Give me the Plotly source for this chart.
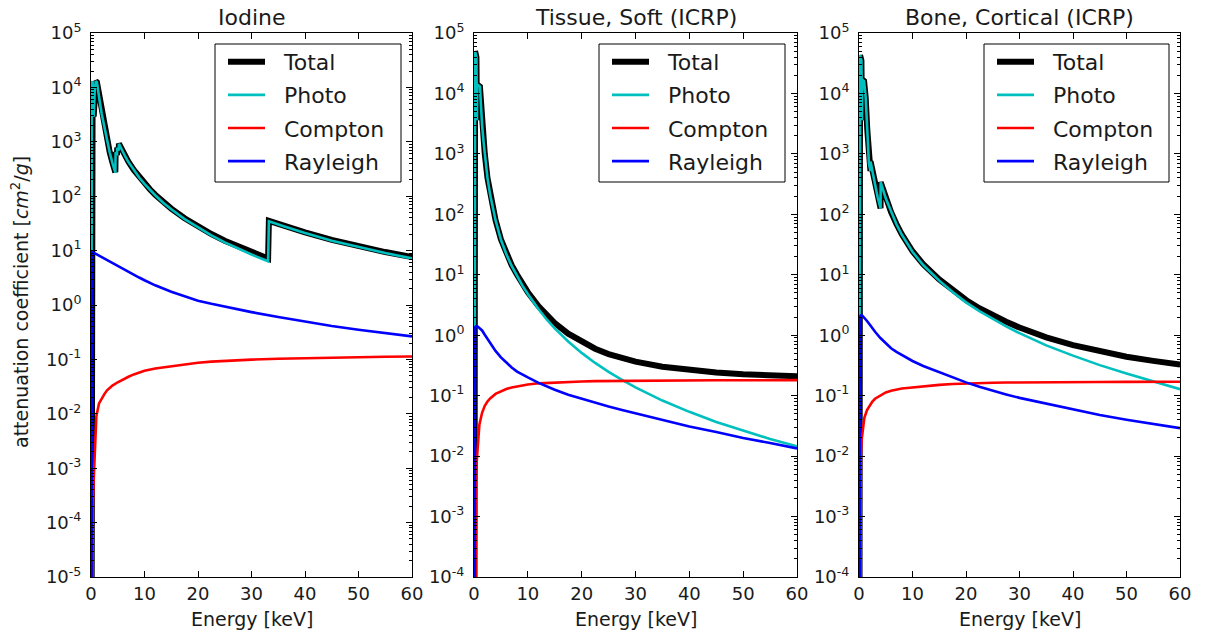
import plotly.graph_objects as go

W, H = 1207, 635

# ---------------- data ----------------
# shared energy grid for the smooth Compton / Rayleigh curves [keV]
E_smooth = [0, 0.2, 0.35, 0.5, 0.75, 1.0, 1.5, 2, 2.5, 3, 4, 5, 6, 7, 8, 9, 10, 12, 15,
            17.5, 20, 22.5, 25, 27.5, 30, 35, 40, 45, 50, 55, 60]

# Iodine
E_iodine = [0, 0.15, 0.3, 0.5, 0.7, 0.9, 1.1, 1.3, 1.6, 2.0, 2.3, 2.6, 3.0, 3.5, 4.0,
            4.55, 4.6, 4.85, 4.9, 5.19, 5.22, 5.6, 6, 6.5, 7, 8, 9, 10, 11, 12, 13.5,
            15, 17.5, 20, 22.5, 25, 27.5, 30, 33.1, 33.25, 36, 40, 45, 50, 55, 60]
iodine_photo = [1e-12, 1.2e4, 1.3e4, 2.9e3, 9.0e3, 1.3e4, 1.25e4, 9.8e3, 5.8e3, 3.25e3,
                2.28e3, 1.66e3, 1.04e3, 634, 410, 270, 640, 560, 780, 690, 920, 766,
                635, 515, 424, 299, 220, 169, 131.5, 104.2, 76, 57.4, 37.9, 26.5,
                19.06, 14.2, 10.9, 8.46, 6.37, 34.5, 28, 21, 15.2, 11.6, 9.0, 7.2]
iodine_total = [1e-12, 1.2e4, 1.3e4, 2.91e3, 9.01e3, 1.3e4, 1.25e4, 9.81e3, 5.81e3,
                3.26e3, 2.29e3, 1.67e3, 1.05e3, 640, 416, 275.5, 645.5, 565.4, 785.4,
                695.2, 925.2, 771, 640, 520, 428, 303, 224, 172, 134, 106.5, 78, 59.2,
                39.4, 27.8, 20.2, 15.2, 11.8, 9.3, 7.13, 35.3, 28.7, 21.6, 15.7, 12.0,
                9.4, 7.6]
iodine_compton = [1e-12, 3e-5, 2e-4, 6e-4, 3.5e-3, 9e-3, 0.0155, 0.0195, 0.023, 0.027,
                  0.033, 0.038, 0.043, 0.048, 0.053, 0.058, 0.062, 0.068, 0.075, 0.081,
                  0.087, 0.091, 0.094, 0.097, 0.099, 0.103, 0.106, 0.108, 0.110, 0.112,
                  0.113]
iodine_rayleigh = [1e-12, 9.3, 9.2, 9.1, 8.9, 8.6, 8.1, 7.6, 7.1, 6.7, 5.9, 5.2, 4.6,
                   4.05, 3.6, 3.2, 2.85, 2.3, 1.75, 1.45, 1.2, 1.05, 0.93, 0.83, 0.74,
                   0.6, 0.49, 0.41, 0.35, 0.3, 0.265]

# Tissue, Soft (ICRP)
E_tissue = [0, 0.2, 0.45, 0.55, 0.6, 1.1, 1.3, 1.5, 1.8, 2.0, 2.5, 3.0, 3.5, 4.0, 5.0,
            6.0, 7.0, 8.0, 9.0, 10, 12, 13.5, 15, 17.5, 20, 22.5, 25, 27.5, 30, 35, 40,
            45, 50, 55, 60]
tissue_photo = [1e-12, 5.0e4, 4.0e4, 3.6e3, 1.4e4, 1.3e4, 6.0e3, 3.0e3, 1.5e3, 1.0e3,
                400, 210, 120, 80, 38, 22, 14, 9.6, 6.6, 4.8, 2.68, 1.82, 1.30, 0.786,
                0.51, 0.348, 0.247, 0.182, 0.137, 0.083, 0.054, 0.0368, 0.0262, 0.0192,
                0.0145]
tissue_total = [1e-12, 5.0e4, 4.0e4, 3.6e3, 1.4e4, 1.3e4, 6.0e3, 3.0e3, 1.5e3, 1.0e3,
                401, 211, 121, 80.6, 38.5, 22.5, 14.4, 10.0, 6.97, 5.15, 3.0, 2.13,
                1.59, 1.06, 0.771, 0.598, 0.488, 0.416, 0.365, 0.301, 0.264, 0.242,
                0.226, 0.217, 0.209]
tissue_compton = [1e-12, 5e-4, 4e-3, 8e-3, 0.02, 0.033, 0.052, 0.068, 0.08, 0.09, 0.107,
                  0.119, 0.129, 0.137, 0.143, 0.149, 0.153, 0.16, 0.166, 0.169, 0.172,
                  0.174, 0.175, 0.176, 0.177, 0.178, 0.179, 0.18, 0.18, 0.181, 0.181]
tissue_rayleigh = [1e-12, 1.35, 1.4, 1.41, 1.38, 1.33, 1.2, 1.02, 0.87, 0.74, 0.55,
                   0.43, 0.35, 0.293, 0.25, 0.222, 0.2, 0.163, 0.125, 0.104, 0.089,
                   0.076, 0.066, 0.058, 0.051, 0.040, 0.031, 0.025, 0.020, 0.0165,
                   0.0134]

# Bone, Cortical (ICRP)
E_bone = [0, 0.2, 0.45, 0.55, 0.6, 0.95, 1.25, 1.55, 1.85, 2.14, 2.16, 2.6, 3.0, 3.5,
          4.03, 4.05, 5, 6, 7, 8, 10, 12, 15, 17.5, 20, 22.5, 25, 27.5, 30, 35, 40, 45,
          50, 55, 60]
bone_photo = [1e-12, 4.3e4, 3.5e4, 3.6e3, 1.7e4, 1.6e4, 8.5e3, 2.5e3, 700, 520, 750,
              470, 300, 190, 125, 340, 184, 108, 68.5, 46, 24, 14.5, 8.0, 5.2, 3.5, 2.5,
              1.85, 1.4, 1.08, 0.68, 0.46, 0.32, 0.232, 0.172, 0.128]
bone_total = [1e-12, 4.3e4, 3.5e4, 3.6e3, 1.7e4, 1.6e4, 8.5e3, 2.5e3, 702, 522, 752,
              471.5, 301.3, 191, 126, 341, 184.8, 108.7, 69.2, 46.6, 24.5, 14.95, 8.4,
              5.56, 3.83, 2.80, 2.13, 1.67, 1.34, 0.921, 0.687, 0.536, 0.441, 0.376,
              0.327]
bone_compton = [1e-12, 2e-3, 0.01, 0.019, 0.032, 0.043, 0.058, 0.07, 0.08, 0.089, 0.102,
                0.113, 0.121, 0.127, 0.131, 0.134, 0.137, 0.143, 0.151, 0.156, 0.16,
                0.162, 0.164, 0.165, 0.166, 0.167, 0.168, 0.168, 0.169, 0.17, 0.17]
bone_rayleigh = [1e-12, 2.05, 2.12, 2.14, 2.05, 1.95, 1.72, 1.5, 1.3, 1.14, 0.9, 0.73,
                 0.61, 0.53, 0.47, 0.42, 0.375, 0.31, 0.245, 0.2, 0.166, 0.14, 0.12,
                 0.105, 0.092, 0.074, 0.059, 0.048, 0.04, 0.034, 0.029]

titles = ["Iodine", "Tissue, Soft (ICRP)", "Bone, Cortical (ICRP)"]
series_names = ["Total", "Photo", "Compton", "Rayleigh"]
x_tick_vals = [0, 10, 20, 30, 40, 50, 60]
y_decades = [(-5, 5), (-4, 5), (-4, 5)]

panels = [
    (E_iodine, iodine_total, iodine_photo, iodine_compton, iodine_rayleigh),
    (E_tissue, tissue_total, tissue_photo, tissue_compton, tissue_rayleigh),
    (E_bone, bone_total, bone_photo, bone_compton, bone_rayleigh),
]

# ---------------- styling / layout ----------------
FONT = "DejaVu Sans"
TXT = "#1a1a1a"
colors = {"Total": "#000000", "Photo": "#00BFBF", "Compton": "#FF0000", "Rayleigh": "#0000FF"}
widths = {"Total": 6, "Photo": 2.6, "Compton": 2.6, "Rayleigh": 2.6}

# plot-area pixel boxes
px_x = [(91, 412), (474, 797), (859, 1180)]
px_top, px_bot = 33, 577
legend_boxes = [(215, 44, 401, 182), (599, 44, 785, 182), (984, 44, 1169, 182)]


def fx(p):
    return p / W


def fy(p):
    return 1 - p / H


fig = go.Figure()
shapes = []
annotations = []

for i, (E, tot, pho, comp, ray) in enumerate(panels):
    k = "" if i == 0 else str(i + 1)
    leg = "legend" if i == 0 else "legend" + str(i + 1)
    data = [("Total", E, tot), ("Photo", E, pho), ("Compton", E_smooth, comp),
            ("Rayleigh", E_smooth, ray)]
    for name, xs, ys in data:
        fig.add_trace(go.Scatter(
            x=xs, y=ys, mode="lines", name="\u00a0\u00a0" + name,
            line=dict(color=colors[name], width=widths[name]),
            xaxis="x" + k, yaxis="y" + k, legend=leg, showlegend=True,
            legendgroup="%s_%d" % (name, i),
        ))

    lo, hi = y_decades[i]
    majors = list(range(lo, hi + 1))
    minors = [m * 10 ** d for d in range(lo, hi) for m in range(2, 10)]
    x0, x1 = px_x[i]
    fig.layout["xaxis" + k] = dict(
        domain=[fx(x0), fx(x1)], anchor="y" + k, range=[0, 60], automargin=False,
        tickvals=x_tick_vals, ticks="inside", ticklen=6, tickwidth=1,
        tickcolor="black", showline=True, linecolor="black", linewidth=1,
        mirror="ticks", showgrid=False, zeroline=False,
        tickfont=dict(family=FONT, size=18, color=TXT),
    )
    fig.layout["yaxis" + k] = dict(
        domain=[fy(px_bot), fy(px_top)], anchor="x" + k, type="log", automargin=False,
        range=[lo, hi], tickvals=[10.0 ** d for d in majors],
        ticktext=["10<sup>%d</sup>" % d for d in majors],
        ticks="inside", ticklen=6, tickwidth=1, tickcolor="black",
        minor=dict(tickvals=minors, ticks="inside", ticklen=3, tickcolor="black",
                   showgrid=False),
        showline=True, linecolor="black", linewidth=1, mirror="ticks",
        showgrid=False, zeroline=False, ticklabelstandoff=5,
        tickfont=dict(family=FONT, size=18, color=TXT),
    )

    # legend frame
    lx0, ly0, lx1, ly1 = legend_boxes[i]
    shapes.append(dict(type="rect", xref="paper", yref="paper",
                       x0=fx(lx0), x1=fx(lx1), y0=fy(ly1), y1=fy(ly0),
                       line=dict(color="black", width=1), fillcolor="white",
                       layer="above"))
    fig.layout[leg] = dict(
        x=fx(lx0 + 8), y=fy(41), xanchor="left", yanchor="top",
        bgcolor="rgba(0,0,0,0)", borderwidth=0,
        font=dict(family=FONT, size=22, color=TXT),
        itemwidth=37, tracegroupgap=1.5, traceorder="grouped",
    )

    # subplot title
    annotations.append(dict(text=titles[i], xref="paper", yref="paper",
                            x=fx((x0 + x1) / 2), y=fy(17), showarrow=False,
                            xanchor="center", yanchor="middle",
                            font=dict(family=FONT, size=22, color=TXT)))
    # x-axis title
    annotations.append(dict(text="Energy [keV]", xref="paper", yref="paper",
                            x=fx((x0 + x1) / 2), y=fy(619), showarrow=False,
                            xanchor="center", yanchor="middle",
                            font=dict(family=FONT, size=19, color=TXT)))

annotations.append(dict(text="attenuation coefficient [<i>cm</i><sup>2</sup>/<i>g</i>]",
                        xref="paper", yref="paper", x=fx(20), y=fy(302),
                        showarrow=False, textangle=-90, xanchor="center",
                        yanchor="middle",
                        font=dict(family=FONT, size=19, color=TXT)))

fig.update_layout(
    width=W, height=H, margin=dict(l=0, r=0, t=0, b=0, autoexpand=False),
    paper_bgcolor="white", plot_bgcolor="white",
    shapes=shapes, annotations=annotations,
)

fig.write_html("out.html")
